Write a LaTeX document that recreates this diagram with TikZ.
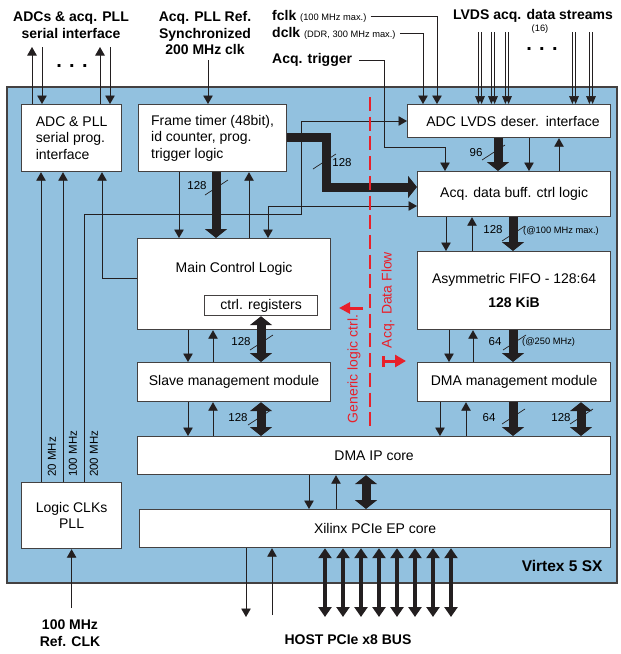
\documentclass[tikz,border=0pt]{standalone}
\usepackage{fontspec}
\setmainfont{Liberation Sans}
\usetikzlibrary{arrows.meta, positioning, calc}
\definecolor{board}{HTML}{92C1DF}
\definecolor{flowred}{HTML}{E8202A}
\definecolor{ink}{HTML}{231F20}
\newcommand\notefont{\fontsize{9.3}{11}\selectfont}
\newcommand\busfont{\fontsize{11.5}{13}\selectfont}

\begin{document}
\begin{tikzpicture}[
  x=1pt, y=-1pt,
  font=\fontsize{14}{16.5}\selectfont,
  blk/.style={draw=ink!85, fill=white, line width=1.2pt, inner sep=0pt, anchor=north west},
  sig/.style={draw=ink, line width=0.9pt, -{Triangle[width=9.5pt,length=8.5pt]}},
  bus/.style={draw=ink, line width=9pt, -{Triangle[width=22pt,length=9pt]}},
  dbus/.style={bus, {Triangle[width=22pt,length=9pt]}-{Triangle[width=22pt,length=9pt]}},
  lane/.style={draw=ink, line width=3.5pt, {Triangle[width=13pt,length=10pt]}-{Triangle[width=13pt,length=10pt]}},
  ttl/.style={font=\fontsize{14}{16.5}\selectfont\bfseries, align=center},
  bw/.style={font=\busfont},
  slash/.style={draw=ink, line width=0.7pt},
  flow/.style={draw=flowred, line width=2.7pt},
]
\useasboundingbox (0,0) rectangle (621,654);
% FPGA
\filldraw[fill=board, draw=ink!85, line width=1.5pt] (7,87) rectangle (617,583);
\node[anchor=east, font=\fontsize{15.5}{18}\selectfont\bfseries] (virtex) at (606,566) {Virtex 5 SX};

% blocks
\node[blk, minimum width=100pt, minimum height=67pt, align=left] (adcif) at (21,104) {ADC \& PLL\\serial prog.\\interface};
\node[blk, minimum width=148pt, minimum height=67pt, align=left] (frame) at (138,104) {Frame timer (48bit),\\id counter, prog.\\trigger logic};
\node[blk, minimum width=193pt, minimum height=91pt] (mcl) at (137,238) {};
\node (mcltxt) at ($(mcl.north)+(0,31)$) {Main Control Logic};
\node[blk, minimum width=113pt, minimum height=20pt] (regs) at (204,295) {ctrl. registers};
\node[blk, minimum width=193pt, minimum height=39pt] (slave) at (137,362) {Slave management module};
\node[blk, minimum width=473pt, minimum height=38pt] (dmaip) at (137,436) {DMA IP core};
\node[blk, minimum width=471pt, minimum height=38pt] (pcie) at (139,509) {Xilinx PCIe EP core};
\node[blk, minimum width=100pt, minimum height=66pt, align=center] (pll) at (21,482) {Logic CLKs\\PLL};
\node[blk, minimum width=203pt, minimum height=33pt, text width=181pt, align=right] (lvds) at (407,104) {ADC LVDS deser. interface};
\node[blk, minimum width=193pt, minimum height=45pt] (acqbuf) at (417,171) {Acq. data buff. ctrl logic};
\node[blk, minimum width=193pt, minimum height=78pt, align=center] (fifo) at (417,251) {Asymmetric FIFO - 128:64\\[7pt]\textbf{128 KiB}};
\node[blk, minimum width=193pt, minimum height=39pt] (dmamgmt) at (417,362) {DMA management module};

% outside labels
\node[ttl] (serlbl) at (71,25) {ADCs \& acq. PLL\\serial interface};
\node[ttl] (reflbl) at (205,33) {Acq. PLL Ref.\\Synchronized\\200 MHz clk};
\node[anchor=west, inner sep=1pt] (fclk) at (271,16) {\textbf{fclk} {\notefont (100 MHz max.)}};
\node[anchor=west, inner sep=1pt] (dclk) at (271,33) {\textbf{dclk} {\notefont (DDR, 300 MHz max.)}};
\node[anchor=west, inner sep=1pt] (trig) at (271,60) {\textbf{Acq. trigger}};
\node[ttl] (lvdslbl) at (533,16) {LVDS acq. data streams};
\node[font=\notefont] (nlanes) at (540,29) {(16)};
\node[font=\fontsize{20}{20}\selectfont\bfseries] (dotsL) at (72,66) {. . .};
\node[font=\fontsize{20}{20}\selectfont\bfseries] (dotsR) at (542,49) {. . .};
\node[ttl] (refclk) at (70,633) {100 MHz\\Ref. CLK};
\node[ttl] (host) at (348,640) {HOST PCIe x8 BUS};

% serial interface and reference clock
\draw[sig] (adcif.north -| 32,0) -- (32,47);
\draw[sig] (42,47) -- (adcif.north -| 42,0);
\draw[sig] (adcif.north -| 100,0) -- (100,47);
\draw[sig] (110,47) -- (adcif.north -| 110,0);
\draw[sig] (208,60) -- (frame.north -| 208,0);
% acquisition clocks and trigger
\draw[sig] ([xshift=3pt]fclk.east) -| (lvds.north -| 437,0);
\draw[sig] ([xshift=3pt]dclk.east) -| (lvds.north -| 423,0);
\draw[sig] ([xshift=6pt]trig.east) -| (384,147) -| (acqbuf.north -| 445,0);
\foreach \x in {480,493,507,574,591}
  \foreach \d in {-1.6,1.6} {
    \pgfmathsetmacro{\xx}{\x+\d}
    \draw[sig, line width=0.7pt, -{Triangle[width=6.5pt,length=8pt]}] (\xx,32) -- (\xx,32 |- lvds.north);
  }

% logic clocks
\draw[sig] (pll.north -| 41,0) -- (adcif.south -| 41,0);
\draw[sig] (pll.north -| 63,0) -- (adcif.south -| 63,0);
\draw[sig] (pll.north -| 84,0) -- (84,214) -| (301,121) -- (lvds.west |- 0,121);
\foreach \x/\f in {52/20, 73/100, 94/200}
  \node[bw, rotate=90, anchor=west, inner sep=0pt] (f\f) at (\x,477) {\f~MHz};
\draw[sig] (mcl.west |- 0,278) -| (adcif.south -| 102,0);
\draw[sig, {Triangle[width=9.5pt,length=8.5pt]}-{Triangle[width=9.5pt,length=8.5pt]}]
  (mcl.north -| 268,0) -- (268,206) -- (acqbuf.west |- 0,206);

% control side
\draw[sig] (frame.south -| 179,0) -- (mcl.north -| 179,0);
\draw[sig] (mcl.north -| 249,0) -- (frame.south -| 249,0);
\draw[sig] (mcl.south -| 188,0) -- (slave.north -| 188,0);
\draw[sig] (slave.north -| 213,0) -- (mcl.south -| 213,0);
\draw[sig] (slave.south -| 188,0) -- (dmaip.north -| 188,0);
\draw[sig] (dmaip.north -| 213,0) -- (slave.south -| 213,0);
\draw[bus] (frame.south -| 216,0) -- (mcl.north -| 216,0);
\draw[bus] (frame.east |- 0,137) -| (326,187) -- (acqbuf.west |- 0,187);
\draw[dbus] (regs.south -| 261,0) -- (slave.north -| 261,0);
\draw[dbus] (slave.south -| 261,0) -- (dmaip.north -| 261,0);

% data side
\draw[sig] (lvds.south -| 529,0) -- (acqbuf.north -| 529,0);
\draw[sig] (acqbuf.north -| 559,0) -- (lvds.south -| 559,0);
\draw[sig] (acqbuf.south -| 446,0) -- (fifo.north -| 446,0);
\draw[sig] (fifo.north -| 472,0) -- (acqbuf.south -| 472,0);
\draw[sig] (fifo.south -| 449,0) -- (dmamgmt.north -| 449,0);
\draw[sig] (dmamgmt.north -| 473,0) -- (fifo.south -| 473,0);
\draw[sig] (dmamgmt.south -| 440,0) -- (dmaip.north -| 440,0);
\draw[sig] (dmaip.north -| 466,0) -- (dmamgmt.south -| 466,0);
\draw[bus] (lvds.south -| 498,0) -- (acqbuf.north -| 498,0);
\draw[bus] (acqbuf.south -| 513,0) -- (fifo.north -| 513,0);
\draw[bus] (fifo.south -| 513,0) -- (dmamgmt.north -| 513,0);
\draw[bus] (dmamgmt.south -| 513,0) -- (dmaip.north -| 513,0);
\draw[dbus] (dmamgmt.south -| 581,0) -- (dmaip.north -| 581,0);

% PCIe
\draw[sig] (dmaip.south -| 309,0) -- (pcie.north -| 309,0);
\draw[sig] (pcie.north -| 336,0) -- (dmaip.south -| 336,0);
\draw[dbus] (dmaip.south -| 366,0) -- (pcie.north -| 366,0);
\draw[sig] (pcie.south -| 246,0) -- (246,617);
\draw[sig] (272,615) -- (pcie.south -| 272,0);
\foreach \i in {0,...,7}
  \draw[lane] (pcie.south -| {325+18*\i},0) -- ({325+18*\i},617);
\draw[sig] (pll.south |- 0,608) -- (pll.south);

% bus widths
\foreach \x/\y/\t in {197/186/128, 342/163/128, 476/153/96, 493/230/128, 241/342/128,
                      238/418/128, 495/342/64, 489/418/64, 561/418/128}
  \node[bw] (w\x\y) at (\x,\y) {\t};
\foreach \x/\y in {205/195, 313/169, 482/160, 502/241, 250/350, 248/425, 503/350, 502/424, 570/424}
  \draw[slash] (\x,\y) -- ++(23,-15);
\node[anchor=west, font=\notefont, inner sep=0pt] (rate1) at (523,231) {(@100 MHz max.)};
\node[anchor=west, font=\notefont, inner sep=0pt] (rate2) at (522,342) {(@250 MHz)};

% logic / data split
\draw[flow, dash pattern=on 14pt off 5.7pt] (370,97) -- (370,427);
\node[rotate=90, text=flowred] (ctrlflow) at (354,369) {Generic logic ctrl.};
\node[rotate=90, text=flowred] (dataflow) at (388,300) {Acq. Data Flow};
\draw[flow, line width=3pt, -{Triangle[width=11pt,length=11pt]}] (363,308) -- (339,308);
\draw[flow, line width=3pt, {Bar[width=11pt]}-{Triangle[width=12pt,length=11pt]}] (382,361) -- (406,361);
\end{tikzpicture}
\end{document}
